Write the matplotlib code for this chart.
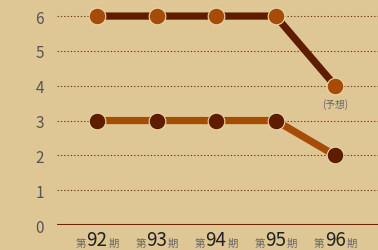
import matplotlib
matplotlib.use("Agg")
import matplotlib.pyplot as plt
import numpy as np

plt.rcParams['font.family'] = ['Noto Sans CJK JP', 'DejaVu Sans']

periods = ["92", "93", "94", "95", "96"]
series_top = [6, 6, 6, 6, 4]
series_bottom = [3, 3, 3, 3, 2]
y_ticks = [0, 1, 2, 3, 4, 5, 6]
note_text = "(予想)"

bg = "#dfc795"
dark = "#5e1c00"
orange = "#a64b08"
rim = "#ecd6a8"

fig = plt.figure(figsize=(3.78, 2.51), dpi=100, facecolor=bg)
ax = fig.add_axes([0.151, 0.0996, 0.849, 0.9004])
ax.set_facecolor(bg)

x = np.arange(len(periods))

for yv in y_ticks[1:]:
    ax.axhline(yv, color="#7a3a10", lw=0.8, ls=(0, (1.2, 1.8)), zorder=1)
ax.axhline(0, color="#6b2400", lw=2.2, zorder=2)

ax.plot(x, series_top, color=dark, lw=5.2, solid_capstyle="butt", zorder=3,
        marker="o", ms=12, mfc=orange, mec=rim, mew=0.8)
ax.plot(x, series_bottom, color=orange, lw=5.2, solid_capstyle="butt", zorder=3,
        marker="o", ms=12, mfc=dark, mec=rim, mew=0.8)

# forecast note under the last point
ax.annotate(note_text, (x[-1], series_top[-1]), xytext=(0, -9),
            textcoords="offset points", ha="center", va="top",
            fontsize=7, color="#6a6a6a")

ax.set_xlim(-0.672, 4.72)
ax.set_ylim(0, 6.49)
ax.set_yticks(y_ticks)
ax.set_yticklabels([str(v) for v in y_ticks], fontsize=11, color="#555555")
ax.tick_params(axis="y", length=0, pad=9.4)
ax.set_xticks([])
for s in ax.spines.values():
    s.set_visible(False)

# period labels: small 第 / 期 around a big number
for xi, p in zip(x, periods):
    ax.annotate(p, (xi, 0), xycoords="data", xytext=(0, -14.2),
                textcoords="offset points", ha="center", va="baseline",
                fontsize=13.5, color="#222222", annotation_clip=False)
    ax.annotate("第", (xi, 0), xycoords="data", xytext=(-7.8, -15.4),
                textcoords="offset points", ha="right", va="baseline",
                fontsize=7.5, color="#666666", annotation_clip=False)
    ax.annotate("期", (xi, 0), xycoords="data", xytext=(8.2, -15.4),
                textcoords="offset points", ha="left", va="baseline",
                fontsize=7.5, color="#666666", annotation_clip=False)

fig.savefig("out.png", dpi=100, facecolor=bg)
